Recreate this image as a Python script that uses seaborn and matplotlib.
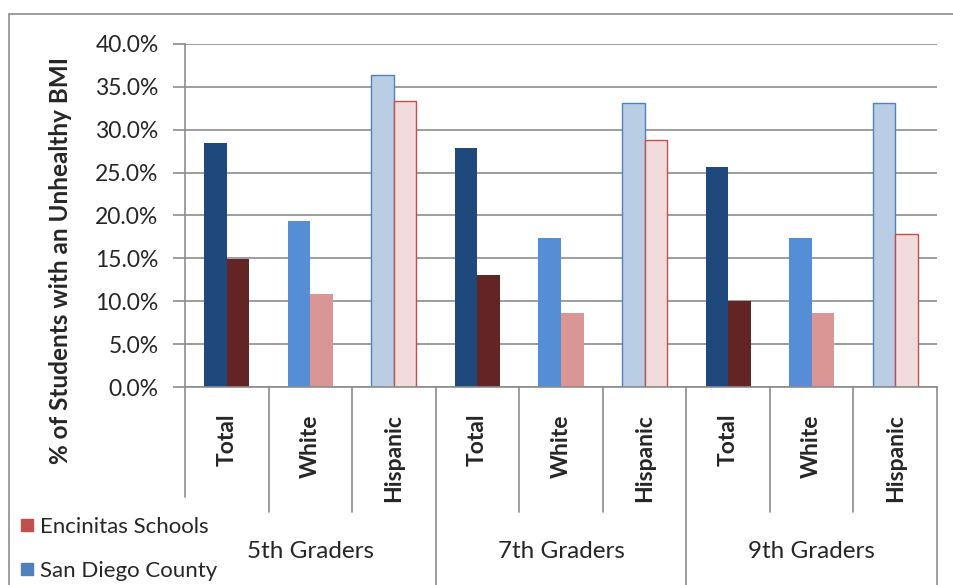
import numpy as np
import pandas as pd
import matplotlib.pyplot as plt
from matplotlib.lines import Line2D
import matplotlib.transforms as mtrans
import seaborn as sns

# chart data (percent of students with an unhealthy BMI)
grades = ['5th Graders', '7th Graders', '9th Graders']
groups = ['Total', 'White', 'Hispanic']
series = ['San Diego County', 'Encinitas Schools']
san_diego = [28.5, 19.4, 36.4, 27.9, 17.4, 33.1, 25.7, 17.4, 33.1]
encinitas = [14.9, 10.9, 33.4, 13.1, 8.6, 28.8, 10.0, 8.6, 17.8]

sd_colors = {'Total': '#1F497D', 'White': '#558ED5', 'Hispanic': '#B9CDE5'}
enc_colors = {'Total': '#632523', 'White': '#D99694', 'Hispanic': '#F2DCDB'}
edge_colors = {'San Diego County': '#4F81BD', 'Encinitas Schools': '#C0504D'}
legend_colors = {'Encinitas Schools': '#C0504D', 'San Diego County': '#4F81BD'}

slots = [g + '|' + s for g in grades for s in groups]
df = pd.DataFrame({
    'slot': slots * 2,
    'series': [series[0]] * 9 + [series[1]] * 9,
    'value': san_diego + encinitas,
})

sns.set_style('white')
plt.rcParams['font.family'] = ['Lato', 'DejaVu Sans']

fig = plt.figure(figsize=(9.54, 5.85), dpi=100)
W, H = 954, 585
ax = fig.add_axes([185 / W, 1 - 387 / H, (937 - 185) / W, (387 - 44) / H])

sns.barplot(data=df, x='slot', y='value', hue='series', hue_order=series,
            order=slots, width=0.54, ax=ax, legend=False, saturation=1)

# recolour every bar by ethnic group
for container, name in zip(ax.containers, series):
    cmap = sd_colors if name == series[0] else enc_colors
    for i, bar in enumerate(container):
        grp = groups[i % 3]
        bar.set_facecolor(cmap[grp])
        if grp == 'Hispanic':
            bar.set_edgecolor(edge_colors[name])
            bar.set_linewidth(1.0)
        else:
            bar.set_edgecolor(cmap[grp])
            bar.set_linewidth(0)

gc = '#8c8c8c'
ax.set_xlim(-0.5, 8.5)
ax.set_ylim(0, 40)
ax.set_yticks(np.arange(0, 40.1, 5))
ax.set_yticklabels(['{:.1f}%'.format(v) for v in np.arange(0, 40.1, 5)], fontsize=16.5)
ax.yaxis.grid(True, color=gc, lw=1.2)
ax.set_axisbelow(True)
ax.tick_params(axis='y', length=8.5, color=gc, width=1.2, left=True, pad=10.5)
ax.set_xticks([])
ax.set_xlabel('')
ax.set_ylabel('% of Students with an Unhealthy BMI', fontsize=17.5, fontweight='bold')
ax.yaxis.set_label_coords(-0.150, 0.37)
for s in ['top', 'right']:
    ax.spines[s].set_visible(False)
ax.spines['left'].set_color(gc)
ax.spines['bottom'].set_color(gc)
ax.spines['left'].set_linewidth(1.2)
ax.spines['bottom'].set_linewidth(1.2)

# two-level category axis below the plot
trans = mtrans.blended_transform_factory(ax.transData, ax.transAxes)
px = 1 / 343.0
for i in range(9):
    ax.text(i, -27 * px, groups[i % 3], rotation=90, transform=trans,
            ha='center', va='top', fontsize=16.5, fontweight='bold')
for k, g in enumerate(grades):
    ax.text(3 * k + 1, -165 * px, g, transform=trans, ha='center', va='center', fontsize=17.5)
for b in range(1, 10):
    xb = b - 0.5
    y_end = -198 * px if b % 3 == 0 else -125 * px
    ax.add_line(Line2D([xb, xb], [0, y_end], transform=trans, color=gc, lw=1.2, clip_on=False))
ax.add_line(Line2D([-0.5, -0.5], [0, -110 * px], transform=trans, color=gc, lw=1.2, clip_on=False))

# outer chart border
fig.add_artist(Line2D([9 / W, 1], [1 - 14 / H, 1 - 14 / H], color=gc, lw=1.2))
fig.add_artist(Line2D([9 / W, 9 / W], [0, 1 - 14 / H], color=gc, lw=1.2))

# legend
handles = [Line2D([], [], marker='s', ls='', markersize=8.6, color=legend_colors[n]) for n in legend_colors]
fig.legend(handles, list(legend_colors), loc='upper left', bbox_to_anchor=(9 / W, 1 - 508 / H),
           frameon=False, fontsize=16, handlelength=0.8, handletextpad=0.19, labelspacing=1.08,
           borderaxespad=0)

fig.savefig('out.png', dpi=100)
